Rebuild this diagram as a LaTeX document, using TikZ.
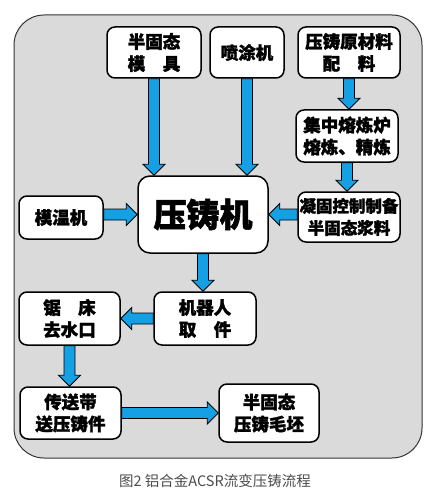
\documentclass[tikz,border=0pt]{standalone}
\usepackage{fontspec}
\newfontfamily\cjk{Noto Sans CJK SC}[BoldFeatures={FakeBold=1.6}]
\usetikzlibrary{calc}
\definecolor{arrowblue}{RGB}{20,160,226}
\definecolor{panelgray}{RGB}{218,218,218}
\tikzset{
  blk/.style={draw=black, line width=0.9pt, fill=arrowblue, line join=miter,
    to path={let \p1=($(\tikztotarget)-(\tikztostart)$), \n1={veclen(\x1,\y1)}, \n2={atan2(\y1,\x1)} in
      {[shift={(\tikztostart)}, rotate=\n2]
      (0pt,5.5pt) -- ({\n1*1pt-11pt},5.5pt) -- ({\n1*1pt-11pt},11pt) -- ({\n1*1pt},0pt)
      -- ({\n1*1pt-11pt},-11pt) -- ({\n1*1pt-11pt},-5.5pt) -- (0pt,-5.5pt) -- cycle}}}
}

\begin{document}
\begin{tikzpicture}[x=1pt, y=-1pt]
    \tikzstyle{n}=[draw=black, line width=1.5pt, fill=white, rounded corners=8pt, align=center, inner sep=0pt, font=\cjk\bfseries\fontsize{17.5}{22}\selectfont]
    \useasboundingbox (0,0) rectangle (430,497);
    \draw[draw=black!80, line width=1pt, fill=panelgray, rounded corners=30pt] (14,15) rectangle (422,458);
    \node[n, minimum width=94pt, minimum height=51pt] (mj) at (154,52.5) {半固态\\模\hspace{1em}具};
    \node[n, minimum width=74pt, minimum height=51pt] (pt) at (247,52.5) {喷涂机};
    \node[n, minimum width=102pt, minimum height=51pt] (yl) at (349,52.5) {压铸原材料\\配\hspace{1em}料};
    \node[n, minimum width=102pt, minimum height=52pt] (rl) at (347,136) {集中熔炼炉\\熔炼、精炼};
    \node[n, minimum width=102pt, minimum height=50pt, font=\cjk\bfseries\fontsize{16.5}{22}\selectfont] (nk) at (349,217) {凝固控制制备\\半固态浆料};
    \node[n, minimum width=130pt, minimum height=77pt, rounded corners=12pt, font=\cjk\bfseries\fontsize{33}{36}\selectfont] (yzj) at (203,214.5) {压铸机};
    \node[n, minimum width=84pt, minimum height=43pt] (mwj) at (61,217.5) {模温机};
    \node[n, minimum width=102pt, minimum height=53pt] (jqr) at (205,318.5) {机器人\\取\hspace{1em}件};
    \node[n, minimum width=101pt, minimum height=53pt] (jc) at (69.5,318.5) {锯\hspace{1em}床\\去水口};
    \node[n, minimum width=101pt, minimum height=52pt] (csd) at (70.5,413) {传送带\\送压铸件};
    \node[n, minimum width=100pt, minimum height=58pt] (mp) at (269,413) {半固态\\压铸毛坯};
    \draw[blk] (mj.south) to (mj.south |- yzj.north);
    \draw[blk] (pt.south) to (pt.south |- yzj.north);
    \draw[blk] (yl.south) to (yl.south |- rl.north);
    \draw[blk] (rl.south) to (rl.south |- nk.north);
    \draw[blk] (nk.west |- yzj.east) to (yzj.east);
    \draw[blk] (mwj.east |- yzj.west) to (yzj.west);
    \draw[blk] (yzj.south) to (yzj.south |- jqr.north);
    \draw[blk] (jqr.west) to (jqr.west -| jc.east);
    \draw[blk] (jc.south) to (jc.south |- csd.north);
    \draw[blk] (csd.east) to (csd.east -| mp.west);
    \node[text=black!70, font=\cjk\fontsize{14.5}{16}\selectfont] (cap) at (215,481) {图2\ 铝合金ACSR流变压铸流程};
\end{tikzpicture}
\end{document}
